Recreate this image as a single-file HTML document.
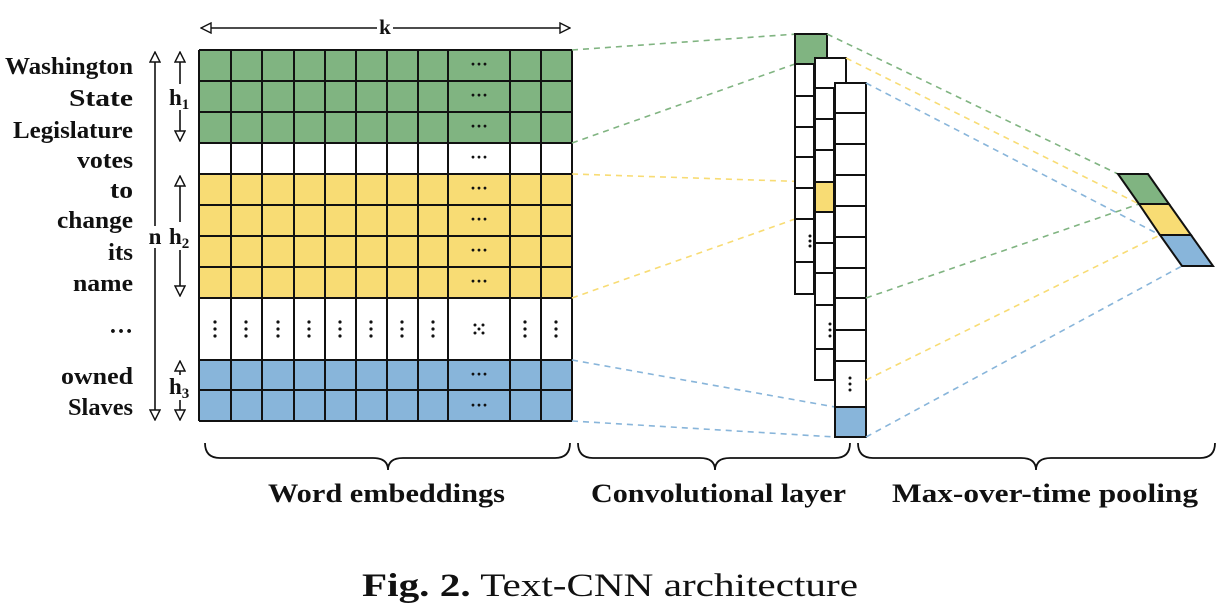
<!DOCTYPE html>
<html><head><meta charset="utf-8"><style>
html,body{margin:0;padding:0;background:#fff;}
svg{display:block;}
text{font-family:"Liberation Serif",serif;fill:#111;}
.lb{font-weight:bold;font-size:24px;text-anchor:end;}
.g{fill:#80b481}.y{fill:#f8dc74}.b{fill:#88b5da}
.dash{fill:none;stroke-width:1.6;stroke-dasharray:6,5}
</style></head><body>
<svg width="1230" height="605" viewBox="0 0 1230 605" xmlns="http://www.w3.org/2000/svg">
<defs>
<marker id="ah" viewBox="0 0 12 12" refX="11" refY="6" markerWidth="12" markerHeight="12" markerUnits="userSpaceOnUse" orient="auto-start-reverse">
<path d="M1,1 L11,6 L1,11 Z" fill="#fff" stroke="#111" stroke-width="1.4"/>
</marker>
</defs>
<line x1="201" y1="28" x2="570" y2="28" stroke="#111" stroke-width="1.6" marker-start="url(#ah)" marker-end="url(#ah)"/>
<rect x="377" y="16" width="16" height="20" fill="#fff"/>
<text x="385" y="34" font-size="21" font-weight="bold" text-anchor="middle">k</text>

<g class="lb">
<text x="133" y="74" textLength="128" lengthAdjust="spacingAndGlyphs">Washington</text>
<text x="133" y="106" textLength="64" lengthAdjust="spacingAndGlyphs">State</text>
<text x="133" y="138" textLength="120" lengthAdjust="spacingAndGlyphs">Legislature</text>
<text x="133" y="168" textLength="56" lengthAdjust="spacingAndGlyphs">votes</text>
<text x="133" y="198" textLength="23" lengthAdjust="spacingAndGlyphs">to</text>
<text x="133" y="228" textLength="76" lengthAdjust="spacingAndGlyphs">change</text>
<text x="133" y="260" textLength="25" lengthAdjust="spacingAndGlyphs">its</text>
<text x="133" y="291" textLength="60" lengthAdjust="spacingAndGlyphs">name</text>
<text x="133" y="333">…</text>
<text x="133" y="384" textLength="72" lengthAdjust="spacingAndGlyphs">owned</text>
<text x="133" y="415" textLength="65" lengthAdjust="spacingAndGlyphs">Slaves</text>
</g>

<line x1="155" y1="52" x2="155" y2="226" stroke="#111" stroke-width="1.6" marker-start="url(#ah)"/>
<line x1="155" y1="248" x2="155" y2="420" stroke="#111" stroke-width="1.6" marker-end="url(#ah)"/>
<text x="155" y="244" font-size="23" font-weight="bold" text-anchor="middle">n</text>
<line x1="180" y1="52" x2="180" y2="84" stroke="#111" stroke-width="1.6" marker-start="url(#ah)"/>
<line x1="180" y1="110" x2="180" y2="141" stroke="#111" stroke-width="1.6" marker-end="url(#ah)"/>
<text x="169" y="105" font-size="23" font-weight="bold">h<tspan font-size="15" dy="4">1</tspan></text>
<line x1="180" y1="176" x2="180" y2="222" stroke="#111" stroke-width="1.6" marker-start="url(#ah)"/>
<line x1="180" y1="250" x2="180" y2="296" stroke="#111" stroke-width="1.6" marker-end="url(#ah)"/>
<text x="169" y="244" font-size="23" font-weight="bold">h<tspan font-size="15" dy="4">2</tspan></text>
<line x1="180" y1="361" x2="180" y2="375" stroke="#111" stroke-width="1.6" marker-start="url(#ah)"/>
<line x1="180" y1="400" x2="180" y2="420" stroke="#111" stroke-width="1.6" marker-end="url(#ah)"/>
<text x="169" y="394" font-size="23" font-weight="bold">h<tspan font-size="15" dy="4">3</tspan></text>

<rect x="199" y="50" width="373" height="93" class="g"/>
<rect x="199" y="174" width="373" height="124" class="y"/>
<rect x="199" y="360" width="373" height="61" class="b"/>
<g stroke="#111" stroke-width="2">
<line x1="199" y1="50" x2="572" y2="50"/><line x1="199" y1="81" x2="572" y2="81"/>
<line x1="199" y1="112" x2="572" y2="112"/><line x1="199" y1="143" x2="572" y2="143"/>
<line x1="199" y1="174" x2="572" y2="174"/><line x1="199" y1="205" x2="572" y2="205"/>
<line x1="199" y1="236" x2="572" y2="236"/><line x1="199" y1="267" x2="572" y2="267"/>
<line x1="199" y1="298" x2="572" y2="298"/><line x1="199" y1="360" x2="572" y2="360"/>
<line x1="199" y1="390" x2="572" y2="390"/><line x1="199" y1="421" x2="572" y2="421"/>
<line x1="199" y1="50" x2="199" y2="421"/><line x1="231" y1="50" x2="231" y2="421"/>
<line x1="262" y1="50" x2="262" y2="421"/><line x1="294" y1="50" x2="294" y2="421"/>
<line x1="325" y1="50" x2="325" y2="421"/><line x1="356" y1="50" x2="356" y2="421"/>
<line x1="387" y1="50" x2="387" y2="421"/><line x1="418" y1="50" x2="418" y2="421"/>
<line x1="448" y1="50" x2="448" y2="421"/><line x1="510" y1="50" x2="510" y2="421"/>
<line x1="541" y1="50" x2="541" y2="421"/><line x1="572" y1="50" x2="572" y2="421"/>
</g>
<g font-size="18" font-weight="bold" text-anchor="middle">
<text x="479" y="70">···</text><text x="479" y="101">···</text><text x="479" y="132">···</text>
<text x="479" y="163">···</text><text x="479" y="194">···</text><text x="479" y="225">···</text>
<text x="479" y="256">···</text><text x="479" y="287">···</text>
<text x="479" y="380">···</text><text x="479" y="411">···</text>
</g>
<g fill="#111">
<circle cx="215" cy="322" r="1.6"/><circle cx="215" cy="329" r="1.6"/><circle cx="215" cy="336" r="1.6"/>
<circle cx="246" cy="322" r="1.6"/><circle cx="246" cy="329" r="1.6"/><circle cx="246" cy="336" r="1.6"/>
<circle cx="278" cy="322" r="1.6"/><circle cx="278" cy="329" r="1.6"/><circle cx="278" cy="336" r="1.6"/>
<circle cx="309" cy="322" r="1.6"/><circle cx="309" cy="329" r="1.6"/><circle cx="309" cy="336" r="1.6"/>
<circle cx="340" cy="322" r="1.6"/><circle cx="340" cy="329" r="1.6"/><circle cx="340" cy="336" r="1.6"/>
<circle cx="371" cy="322" r="1.6"/><circle cx="371" cy="329" r="1.6"/><circle cx="371" cy="336" r="1.6"/>
<circle cx="402" cy="322" r="1.6"/><circle cx="402" cy="329" r="1.6"/><circle cx="402" cy="336" r="1.6"/>
<circle cx="433" cy="322" r="1.6"/><circle cx="433" cy="329" r="1.6"/><circle cx="433" cy="336" r="1.6"/>
<circle cx="525" cy="322" r="1.6"/><circle cx="525" cy="329" r="1.6"/><circle cx="525" cy="336" r="1.6"/>
<circle cx="556" cy="322" r="1.6"/><circle cx="556" cy="329" r="1.6"/><circle cx="556" cy="336" r="1.6"/>
<circle cx="475" cy="325" r="1.5"/><circle cx="483" cy="325" r="1.5"/><circle cx="479" cy="329" r="1.5"/>
<circle cx="475" cy="333" r="1.5"/><circle cx="483" cy="333" r="1.5"/>
</g>

<line x1="572" y1="50" x2="797" y2="34" stroke="#80b481" class="dash"/>
<line x1="572" y1="143" x2="795" y2="64" stroke="#80b481" class="dash"/>
<line x1="572" y1="174" x2="815" y2="182" stroke="#f8dc74" class="dash"/>
<line x1="572" y1="298" x2="815" y2="212" stroke="#f8dc74" class="dash"/>
<line x1="572" y1="360" x2="835" y2="407" stroke="#88b5da" class="dash"/>
<line x1="572" y1="421" x2="835" y2="437" stroke="#88b5da" class="dash"/>

<g stroke="#111" stroke-width="2" fill="#fff">
<rect x="795" y="34" width="32" height="30" class="g"/>
<rect x="795" y="64" width="19" height="32"/><rect x="795" y="96" width="19" height="31"/>
<rect x="795" y="127" width="19" height="30"/><rect x="795" y="157" width="19" height="31"/>
<rect x="795" y="188" width="19" height="31"/><rect x="795" y="219" width="19" height="43"/>
<rect x="795" y="262" width="19" height="32"/>
<rect x="815" y="58" width="31" height="30"/>
<rect x="815" y="88" width="19" height="31"/><rect x="815" y="119" width="19" height="31"/>
<rect x="815" y="150" width="19" height="32"/><rect x="815" y="182" width="19" height="30" class="y"/>
<rect x="815" y="212" width="19" height="31"/><rect x="815" y="243" width="19" height="30"/>
<rect x="815" y="273" width="19" height="32"/><rect x="815" y="305" width="19" height="44"/>
<rect x="815" y="349" width="19" height="31"/>
<rect x="835" y="83" width="31" height="30"/><rect x="835" y="113" width="31" height="31"/>
<rect x="835" y="144" width="31" height="31"/><rect x="835" y="175" width="31" height="31"/>
<rect x="835" y="206" width="31" height="31"/><rect x="835" y="237" width="31" height="31"/>
<rect x="835" y="268" width="31" height="30"/><rect x="835" y="298" width="31" height="32"/>
<rect x="835" y="330" width="31" height="31"/><rect x="835" y="361" width="31" height="46"/>
<rect x="835" y="407" width="31" height="30" class="b"/>
</g>
<g fill="#111">
<circle cx="810" cy="236" r="1.5"/><circle cx="810" cy="241" r="1.5"/><circle cx="810" cy="246" r="1.5"/>
<circle cx="830" cy="324" r="1.5"/><circle cx="830" cy="330" r="1.5"/><circle cx="830" cy="336" r="1.5"/>
<circle cx="850" cy="378" r="1.5"/><circle cx="850" cy="384" r="1.5"/><circle cx="850" cy="390" r="1.5"/>
</g>

<line x1="827" y1="34" x2="1118" y2="174" stroke="#80b481" class="dash"/>
<line x1="846" y1="58" x2="1139" y2="204" stroke="#f8dc74" class="dash"/>
<line x1="866" y1="83" x2="1160" y2="235" stroke="#88b5da" class="dash"/>
<line x1="866" y1="298" x2="1139" y2="204" stroke="#80b481" class="dash"/>
<line x1="866" y1="380" x2="1160" y2="235" stroke="#f8dc74" class="dash"/>
<line x1="866" y1="437" x2="1182" y2="266" stroke="#88b5da" class="dash"/>

<g stroke="#111" stroke-width="2">
<polygon points="1118,174 1148,174 1169,204 1139,204" class="g"/>
<polygon points="1139,204 1169,204 1191,235 1160,235" class="y"/>
<polygon points="1160,235 1191,235 1213,266 1182,266" class="b"/>
</g>

<g fill="none" stroke="#111" stroke-width="1.8">
<path d="M205,443 q0,15 15,15 L373,458 q15,0 15,12 q0,-12 15,-12 L555,458 q15,0 15,-15"/>
<path d="M578,443 q0,15 15,15 L700,458 q15,0 15,12 q0,-12 15,-12 L835,458 q15,0 15,-15"/>
<path d="M858,443 q0,15 15,15 L1021,458 q15,0 15,12 q0,-12 15,-12 L1200,458 q15,0 15,-15"/>
</g>
<g font-size="26" font-weight="bold">
<text x="268" y="502" textLength="237" lengthAdjust="spacingAndGlyphs">Word embeddings</text>
<text x="591" y="502" textLength="255" lengthAdjust="spacingAndGlyphs">Convolutional layer</text>
<text x="892" y="502" textLength="306" lengthAdjust="spacingAndGlyphs">Max-over-time pooling</text>
</g>
<text x="362" y="596" font-size="33" textLength="496" lengthAdjust="spacingAndGlyphs"><tspan font-weight="bold">Fig. 2.</tspan> Text-CNN architecture</text>
</svg>
</body></html>
